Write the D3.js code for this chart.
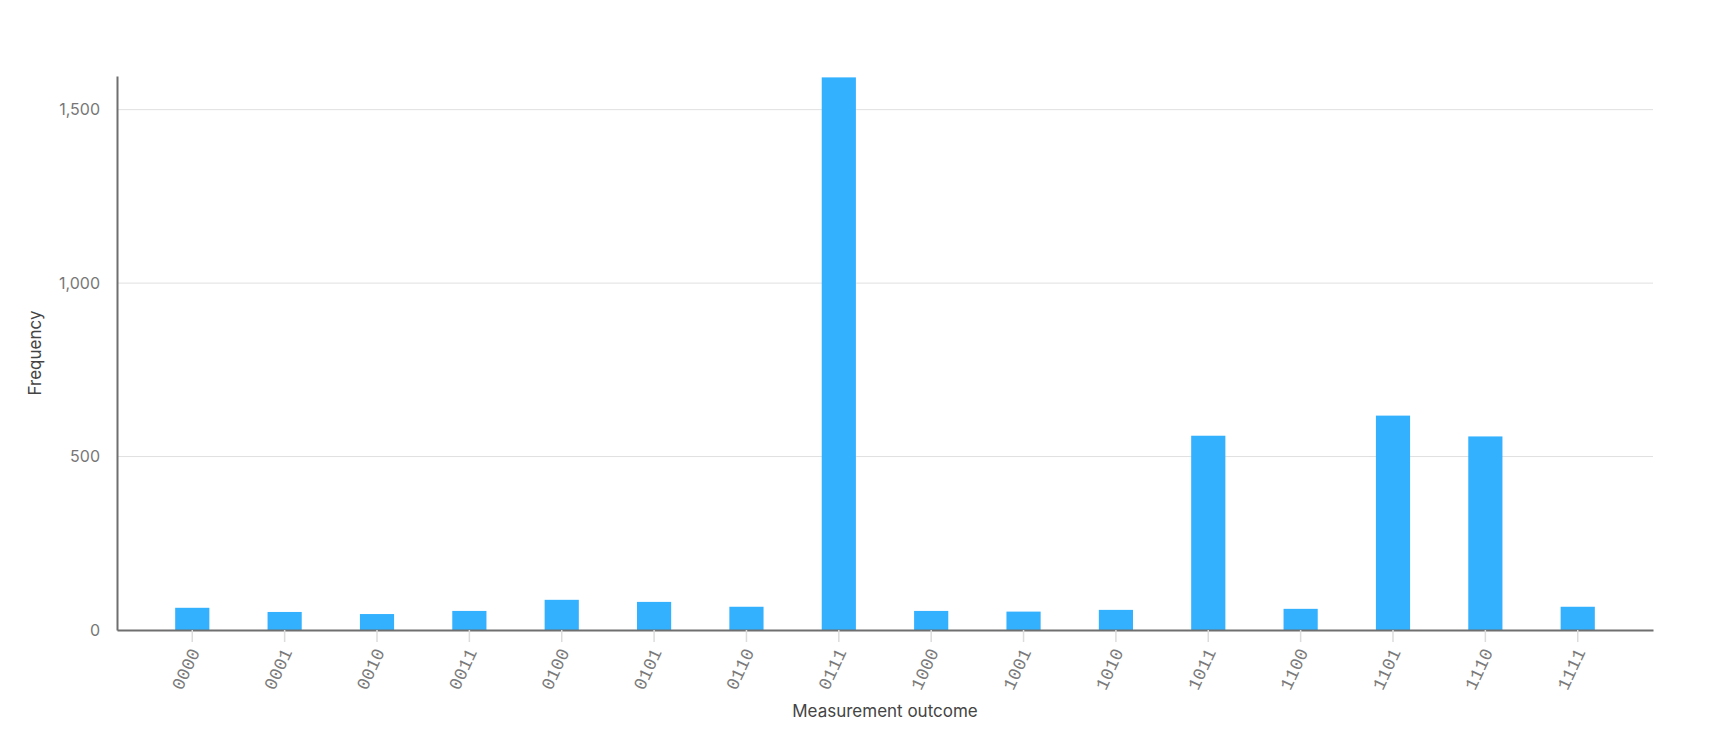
<!DOCTYPE html>
<html>
<head>
<meta charset="utf-8">
<script src="https://cdn.jsdelivr.net/npm/d3@7"></script>
<style>
  body { margin: 0; background: #fff; }
  svg { display: block; font-family: Inter, "Noto Sans", sans-serif; }
</style>
</head>
<body>
<svg id="chart" width="1726" height="750"></svg>
<script>
const outcomes = ['0000','0001','0010','0011','0100','0101','0110','0111',
                  '1000','1001','1010','1011','1100','1101','1110','1111'];
const counts = [64, 52, 46, 55, 87, 81, 67, 1593, 55, 53, 58, 560, 61, 618, 558, 67];
const yTicks = [0, 500, 1000, 1500];

const width = 1726;
const height = 750;
const margin = { top: 76, right: 73, bottom: 120, left: 117 };

const svg = d3.select('#chart');

const x = d3.scaleBand()
  .domain(outcomes)
  .range([margin.left, width - margin.right])
  .paddingInner(0.63)
  .paddingOuter(0.63);

const y = d3.scaleLinear()
  .domain([0, 1597])
  .range([height - margin.bottom, margin.top]);

// grid lines
svg.append('g')
  .selectAll('line')
  .data(yTicks.filter(d => d > 0))
  .join('line')
  .attr('x1', margin.left)
  .attr('x2', width - margin.right)
  .attr('y1', d => y(d))
  .attr('y2', d => y(d))
  .attr('stroke', '#e0e0e0')
  .attr('stroke-width', 1);

// bars
svg.append('g')
  .attr('fill', '#33b1ff')
  .selectAll('rect')
  .data(outcomes)
  .join('rect')
  .attr('x', d => x(d))
  .attr('y', (d, i) => y(counts[i]))
  .attr('width', x.bandwidth())
  .attr('height', (d, i) => y(0) - y(counts[i]));

// y axis
const yAxis = svg.append('g')
  .attr('transform', `translate(${margin.left},0)`)
  .call(d3.axisLeft(y).tickValues(yTicks).tickSize(0).tickPadding(17).tickFormat(d3.format(',')));
yAxis.select('.domain').attr('stroke', '#6f6f6f').attr('stroke-width', 2);
yAxis.selectAll('text')
  .attr('font-size', 16)
  .attr('fill', '#777')
  .attr('font-family', 'Inter, "Noto Sans", sans-serif');

// x axis
const xAxis = svg.append('g')
  .attr('transform', `translate(0,${height - margin.bottom})`)
  .call(d3.axisBottom(x).tickSizeInner(12).tickSizeOuter(0));
xAxis.select('.domain').attr('stroke', '#6f6f6f').attr('stroke-width', 2);
xAxis.selectAll('.tick line').attr('stroke', '#dcdcdc').attr('stroke-width', 1.5);
xAxis.selectAll('text')
  .attr('font-size', 18)
  .attr('fill', '#7a7a7a')
  .attr('font-family', '"Liberation Mono", monospace')
  .attr('text-anchor', 'end')
  .attr('x', null).attr('y', null).attr('dy', null)
  .attr('transform', 'translate(8,22) rotate(-65)');

// axis titles
svg.append('text')
  .attr('x', (margin.left + width - margin.right) / 2)
  .attr('y', 717)
  .attr('text-anchor', 'middle')
  .attr('font-size', 17)
  .attr('fill', '#444')
  .text('Measurement outcome');

svg.append('text')
  .attr('transform', `translate(41,${(margin.top + height - margin.bottom) / 2}) rotate(-90)`)
  .attr('text-anchor', 'middle')
  .attr('font-size', 17)
  .attr('fill', '#444')
  .text('Frequency');
</script>
</body>
</html>
